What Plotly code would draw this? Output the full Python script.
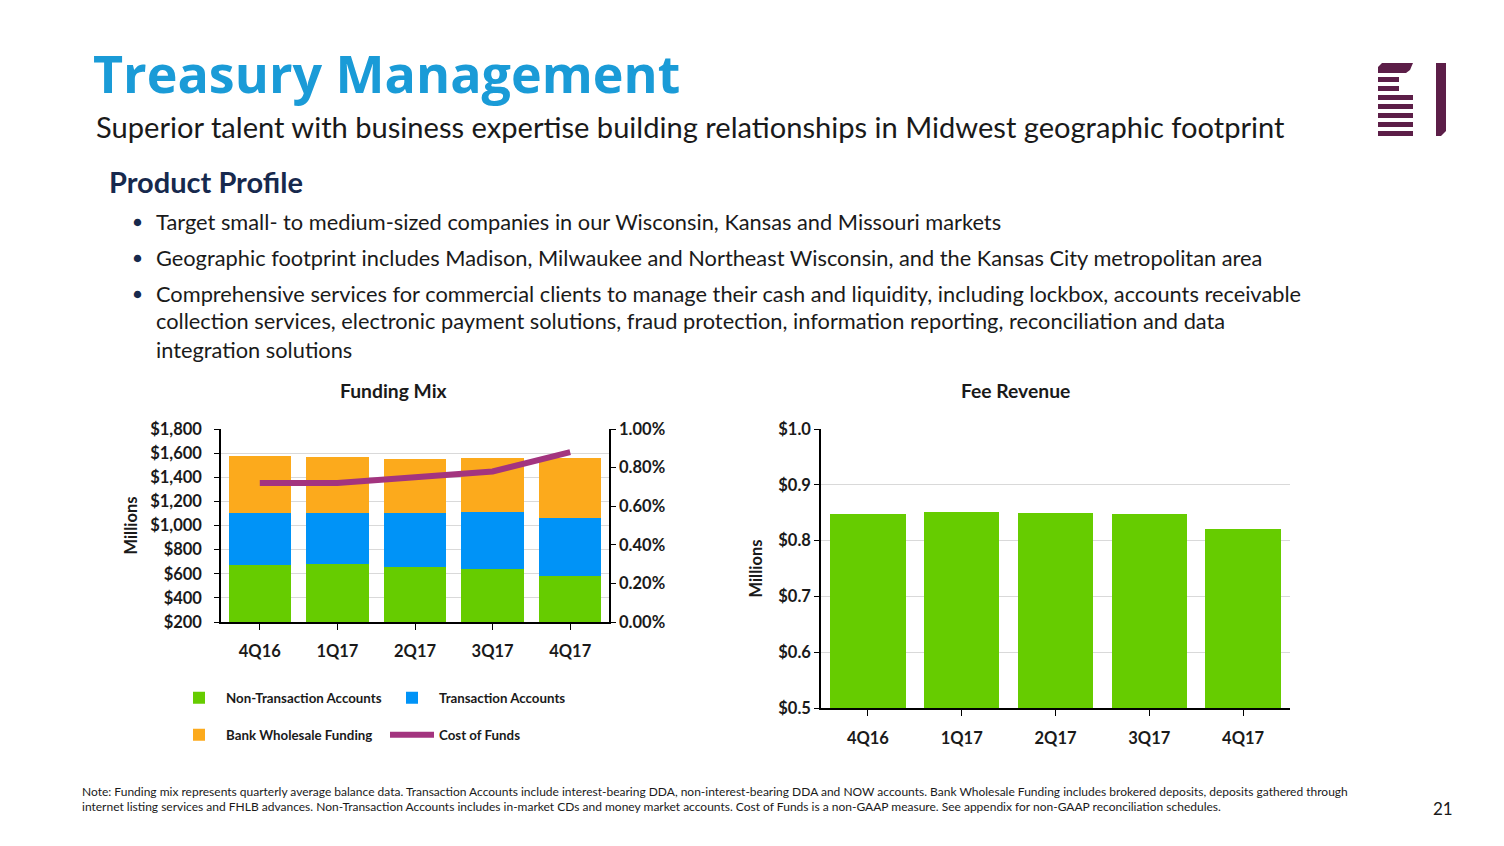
import plotly.graph_objects as go

W, H = 1504, 846

quarters = ["4Q16", "1Q17", "2Q17", "3Q17", "4Q17"]
non_transaction = [676, 684, 659, 643, 585]
transaction = [431, 417, 442, 466, 480]
wholesale = [469, 467, 450, 451, 495]
cost_of_funds = [0.0072, 0.0072, 0.0075, 0.0078, 0.0088]
fee_revenue = [0.847, 0.852, 0.849, 0.848, 0.821]

GREEN = "#66CC00"
BLUE = "#0093F7"
ORANGE = "#FCAA1C"
PURPLE = "#A3347F"
NAVY = "#17294D"
TXT = "#1A1A1A"
FONT = "Lato"


def px(x):
    return x / W


def py(y):
    return 1 - y / H


fig = go.Figure()

fig.add_trace(go.Bar(x=quarters, y=non_transaction, name="Non-Transaction Accounts",
                     marker=dict(color=GREEN, line=dict(width=0)), legend="legend",
                     xaxis="x", yaxis="y"))
fig.add_trace(go.Bar(x=quarters, y=transaction, name="Transaction Accounts",
                     marker=dict(color=BLUE, line=dict(width=0)), legend="legend",
                     xaxis="x", yaxis="y"))
fig.add_trace(go.Bar(x=quarters, y=wholesale, name="Bank Wholesale Funding",
                     marker=dict(color=ORANGE, line=dict(width=0)), legend="legend2",
                     xaxis="x", yaxis="y"))
fig.add_trace(go.Scatter(x=quarters, y=cost_of_funds, name="Cost of Funds", mode="lines",
                         line=dict(color=PURPLE, width=6), legend="legend2",
                         xaxis="x", yaxis="y2"))
fig.add_trace(go.Bar(x=quarters, y=fee_revenue, name="Fee Revenue", showlegend=False,
                     marker=dict(color=GREEN, line=dict(width=0)),
                     xaxis="x3", yaxis="y3"))

tickfont = dict(family=FONT, size=16.5, color=TXT, weight="bold")
grid = "#D9D9D9"
legfont = dict(family=FONT, size=13.3, color=TXT, weight="bold")

fig.update_layout(
    width=W, height=H, margin=dict(l=0, r=0, t=0, b=0, autoexpand=False),
    paper_bgcolor="white", plot_bgcolor="white",
    barmode="stack", bargap=0.195,
    font=dict(family=FONT, color=TXT),
    xaxis=dict(domain=[px(221), px(609)], anchor="y", showline=True, linecolor="black",
               linewidth=1.5, ticks="outside", ticklen=6, tickcolor="black",
               tickfont=tickfont, ticklabelstandoff=7, showgrid=False, automargin=False),
    yaxis=dict(domain=[py(622), py(429)], anchor="x", range=[200, 1800], dtick=200,
               tickprefix="$", tickformat=",", showline=True, linecolor="black",
               linewidth=1.5, ticks="outside", ticklen=5, tickcolor="black",
               tickfont=tickfont, ticklabelstandoff=9, gridcolor=grid, gridwidth=1,
               zeroline=False, automargin=False,
               title=dict(text="Millions", font=dict(family=FONT, size=16.5, color=TXT, weight="bold"),
                          standoff=8)),
    yaxis2=dict(overlaying="y", side="right", anchor="x", range=[0, 0.01], dtick=0.002,
                tickformat=".2%", showline=True, linecolor="black", linewidth=1.5,
                ticks="outside", ticklen=5, tickcolor="black", tickfont=tickfont,
                showgrid=False, zeroline=False, automargin=False),
    xaxis3=dict(domain=[px(821), px(1290)], anchor="y3", showline=True, linecolor="black",
                linewidth=1.5, ticks="outside", ticklen=6, tickcolor="black",
                tickfont=tickfont, ticklabelstandoff=8, showgrid=False, automargin=False),
    yaxis3=dict(domain=[py(708), py(429)], anchor="x3", range=[0.5, 1.0], dtick=0.1,
                tickprefix="$", tickformat=".1f", showline=True, linecolor="black",
                linewidth=1.5, ticks="outside", ticklen=5, tickcolor="black",
                tickfont=tickfont, gridcolor=grid, gridwidth=1, zeroline=False, automargin=False,
                title=dict(text="Millions", font=dict(family=FONT, size=16.5, color=TXT, weight="bold"),
                           standoff=12)),
    legend=dict(orientation="h", x=px(172), y=py(698), xanchor="left", yanchor="middle",
                entrywidth=154, entrywidthmode="pixels", itemwidth=44,
                font=legfont, bgcolor="rgba(0,0,0,0)", traceorder="normal"),
    legend2=dict(orientation="h", x=px(172), y=py(735), xanchor="left", yanchor="middle",
                 entrywidth=154, entrywidthmode="pixels", itemwidth=44,
                 font=legfont, bgcolor="rgba(0,0,0,0)", traceorder="normal"),
    showlegend=True,
)

ann = []


def text(x, y, s, size, color=TXT, bold=False, family=FONT, xanchor="left"):
    ann.append(dict(x=px(x), y=py(y), xref="paper", yref="paper", text=s, showarrow=False,
                    xanchor=xanchor, yanchor="middle",
                    font=dict(family=family, size=size, color=color,
                              weight="bold" if bold else "normal")))


text(91, 73, "Treasury Management", 52, color="#1A9BD7", bold=True, family="Open Sans")
text(94, 127, "Superior talent with business expertise building relationships in Midwest geographic footprint",
     29.1)
text(107, 182, "Product Profile", 29, color=NAVY, bold=True)

bullets = [
    (221, "Target small- to medium-sized companies in our Wisconsin, Kansas and Missouri markets", True),
    (257, "Geographic footprint includes Madison, Milwaukee and Northeast Wisconsin, and the Kansas City metropolitan area", True),
    (293, "Comprehensive services for commercial clients to manage their cash and liquidity, including lockbox, accounts receivable", True),
    (321, "collection services, electronic payment solutions, fraud protection, information reporting, reconciliation and data", False),
    (349, "integration solutions", False),
]
for y, s, dot in bullets:
    if dot:
        text(131, y, "●", 15, color=NAVY)
    text(154, y, s, 21.8)

text(393, 391, "Funding Mix", 19.3, bold=True, xanchor="center")
text(1016, 391, "Fee Revenue", 19.3, bold=True, xanchor="center")

text(80, 791, "Note: Funding mix represents quarterly average balance data. Transaction Accounts include interest-bearing DDA, non-interest-bearing DDA and NOW accounts. Bank Wholesale Funding includes brokered deposits, deposits gathered through",
     12)
text(80, 806, "internet listing services and FHLB advances. Non-Transaction Accounts includes in-market CDs and money market accounts. Cost of Funds is a non-GAAP measure. See appendix for non-GAAP reconciliation schedules.",
     12)
text(1443, 808, "21", 17, xanchor="center")

fig.update_layout(annotations=ann)

# logo
LOGO = "#5C1E48"
shapes = []


def rect(x0, y0, x1, y1):
    shapes.append(dict(type="rect", xref="paper", yref="paper", x0=px(x0), x1=px(x1),
                       y0=py(y1), y1=py(y0), fillcolor=LOGO, line=dict(width=0)))


def path(pts):
    d = "M " + " L ".join(f"{px(a):.5f},{py(b):.5f}" for a, b in pts) + " Z"
    shapes.append(dict(type="path", xref="paper", yref="paper", path=d,
                       fillcolor=LOGO, line=dict(width=0)))


path([(1378, 73), (1378, 67), (1382, 63), (1413, 63), (1410, 70), (1406, 73)])
rect(1378, 77, 1399, 82)
rect(1378, 86, 1399, 91)
for y0 in [95, 104, 113, 122, 131]:
    rect(1378, y0, 1413, y0 + 5)
path([(1436, 63), (1446, 63), (1446, 131), (1441, 136), (1436, 136)])

fig.update_layout(shapes=shapes)

fig.write_html("out.html", config={"displayModeBar": False},
               post_script="document.body.style.margin='0';")
